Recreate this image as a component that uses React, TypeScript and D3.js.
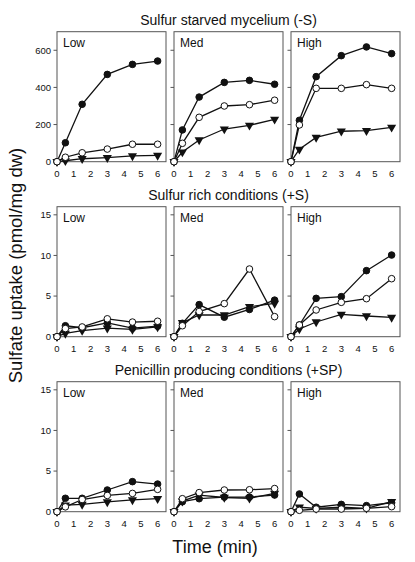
import React from "react";
import * as d3 from "d3";

const times = [0, 0.5, 1.5, 3, 4.5, 6];
const rowTitles = ["Sulfur starved mycelium (-S)", "Sulfur rich conditions (+S)", "Penicillin producing conditions (+SP)"];
const panelLabels = ["Low", "Med", "High"];
const xTickValues = [0, 1, 2, 3, 4, 5, 6];
const yTicksTop = [0, 200, 400, 600];
const yTicksLower = [0, 5, 10, 15];
const yLabel = "Sulfate uptake (pmol/mg dw)";
const xLabel = "Time (min)";

// Row 1: sulfur starved (-S)
const starvedLowFilled = [0, 102, 309, 470, 524, 542];
const starvedLowOpen = [0, 24, 48, 68, 94, 94];
const starvedLowTri = [0, 5, 16, 22, 31, 34];
const starvedMedFilled = [0, 171, 348, 427, 438, 417];
const starvedMedOpen = [0, 99, 239, 300, 307, 331];
const starvedMedTri = [0, 52, 117, 176, 196, 228];
const starvedHighFilled = [0, 223, 458, 571, 618, 582];
const starvedHighOpen = [0, 198, 395, 395, 415, 395];
const starvedHighTri = [0, 67, 131, 164, 167, 185];

// Row 2: sulfur rich (+S)
const richLowFilled = [0, 1.35, 1.1, 1.7, 1.05, 1.3];
const richLowOpen = [0, 1.0, 1.2, 2.2, 1.8, 1.9];
const richLowTri = [0, 0.4, 0.75, 1.05, 0.9, 1.2];
const richMedFilled = [0, 1.65, 3.95, 2.4, 3.35, 4.5];
const richMedOpen = [0, 1.35, 3.1, 4.07, 8.33, 2.47];
const richMedTri = [0, 1.72, 2.67, 2.67, 3.7, 4.1];
const richHighFilled = [0, 1.44, 4.72, 4.93, 8.13, 10.05];
const richHighOpen = [0, 1.44, 3.29, 4.23, 4.68, 7.14];
const richHighTri = [0, 0.95, 1.81, 2.75, 2.55, 2.38];

// Row 3: penicillin producing (+SP)
const penLowFilled = [0, 1.65, 1.65, 2.67, 3.7, 3.4];
const penLowOpen = [0, 0.6, 1.5, 2.0, 2.25, 2.75];
const penLowTri = [0, 0.8, 0.9, 1.2, 1.45, 1.6];
const penMedFilled = [0, 1.23, 1.6, 1.8, 1.8, 2.05];
const penMedOpen = [0, 1.6, 2.35, 2.67, 2.7, 2.85];
const penMedTri = [0, 1.3, 2.05, 1.75, 1.65, 2.25];
const penHighFilled = [0, 2.18, 0.55, 0.9, 0.75, 1.1];
const penHighOpen = [0, 0.17, 0.33, 0.33, 0.42, 0.62];
const penHighTri = [0, 0.55, 0.4, 0.55, 0.42, 1.23];

const rows = [
  {
    title: rowTitles[0], yMax: 700, ticks: yTicksTop,
    panels: [
      { tri: starvedLowTri, filled: starvedLowFilled, open: starvedLowOpen },
      { tri: starvedMedTri, filled: starvedMedFilled, open: starvedMedOpen },
      { tri: starvedHighTri, filled: starvedHighFilled, open: starvedHighOpen },
    ],
  },
  {
    title: rowTitles[1], yMax: 16, ticks: yTicksLower,
    panels: [
      { tri: richLowTri, filled: richLowFilled, open: richLowOpen },
      { tri: richMedTri, filled: richMedFilled, open: richMedOpen },
      { tri: richHighTri, filled: richHighFilled, open: richHighOpen },
    ],
  },
  {
    title: rowTitles[2], yMax: 16, ticks: yTicksLower,
    panels: [
      { tri: penLowTri, filled: penLowFilled, open: penLowOpen },
      { tri: penMedTri, filled: penMedFilled, open: penMedOpen },
      { tri: penHighTri, filled: penHighFilled, open: penHighOpen },
    ],
  },
];

const W = 415;
const H = 562;
const FONT = "'Liberation Sans', Arial, Helvetica, sans-serif";
const panelLefts = [57, 174, 291];
const panelW = 109;
const panelH = 130;
const rowTops = [31.7, 206.7, 381.7];

const triPath = d3.symbol(d3.symbolTriangle, 36)();

function Panel({ row, pi, ri }: any) {
  const left = panelLefts[pi];
  const top = rowTops[ri];
  const x = d3.scaleLinear().domain([0, 6.5]).range([left, left + panelW]);
  const y = d3.scaleLinear().domain([0, row.yMax]).range([top + panelH, top]);
  const p = row.panels[pi];
  const line = d3
    .line<number>()
    .x((_, i) => x(times[i]))
    .y((v) => y(v));
  const series = [
    { key: "tri", vals: p.tri },
    { key: "filled", vals: p.filled },
    { key: "open", vals: p.open },
  ];
  return (
    <g>
      <rect x={left} y={top} width={panelW} height={panelH} fill="none" stroke="#555" strokeWidth={1} />
      {row.ticks.map((t: number) => (
        <g key={t}>
          <line x1={left - 3.5} x2={left} y1={y(t)} y2={y(t)} stroke="#555" strokeWidth={1} />
          {pi === 0 && (
            <text x={left - 6} y={y(t) + 3.4} fontSize={9.5} textAnchor="end" fontFamily={FONT} fill="#111">
              {t}
            </text>
          )}
        </g>
      ))}
      {xTickValues.map((t) => (
        <text key={t} x={x(t)} y={top + panelH + 15} fontSize={9.5} textAnchor="middle" fontFamily={FONT} fill="#111">
          {t}
        </text>
      ))}
      <text x={left + 6} y={top + 15} fontSize={12} fontFamily={FONT} fill="#111">
        {panelLabels[pi]}
      </text>
      {series.map((s) => (
        <g key={s.key}>
          <path d={line(s.vals) || ""} fill="none" stroke="#111" strokeWidth={1.3} />
          {s.vals.map((v: number, i: number) =>
            s.key === "tri" ? (
              <path
                key={i}
                d={triPath || ""}
                transform={`translate(${x(times[i])},${y(v)}) rotate(180)`}
                fill="#111"
              />
            ) : (
              <circle
                key={i}
                cx={x(times[i])}
                cy={y(v)}
                r={3.3}
                fill={s.key === "filled" ? "#111" : "#fff"}
                stroke="#111"
                strokeWidth={1}
              />
            )
          )}
        </g>
      ))}
    </g>
  );
}

export default function App() {
  const centerX = (panelLefts[0] + panelLefts[2] + panelW) / 2;
  return (
    <svg width={W} height={H} style={{ position: "absolute", left: 0, top: 0, background: "#fff" }}>
      <rect x={0} y={0} width={W} height={H} fill="#fff" />
      {rows.map((row, ri) => (
        <g key={ri}>
          <text x={centerX} y={rowTops[ri] - 6.5} fontSize={14} textAnchor="middle" fontFamily={FONT} fill="#111">
            {row.title}
          </text>
          {[0, 1, 2].map((pi) => (
            <Panel key={pi} row={row} pi={pi} ri={ri} />
          ))}
        </g>
      ))}
      <text
        transform={`translate(21.5, 265.5) rotate(-90)`}
        fontSize={18.5}
        textAnchor="middle"
        fontFamily={FONT}
        fill="#111"
      >
        {yLabel}
      </text>
      <text x={215} y={553} fontSize={18} textAnchor="middle" fontFamily={FONT} fill="#111">
        {xLabel}
      </text>
    </svg>
  );
}
